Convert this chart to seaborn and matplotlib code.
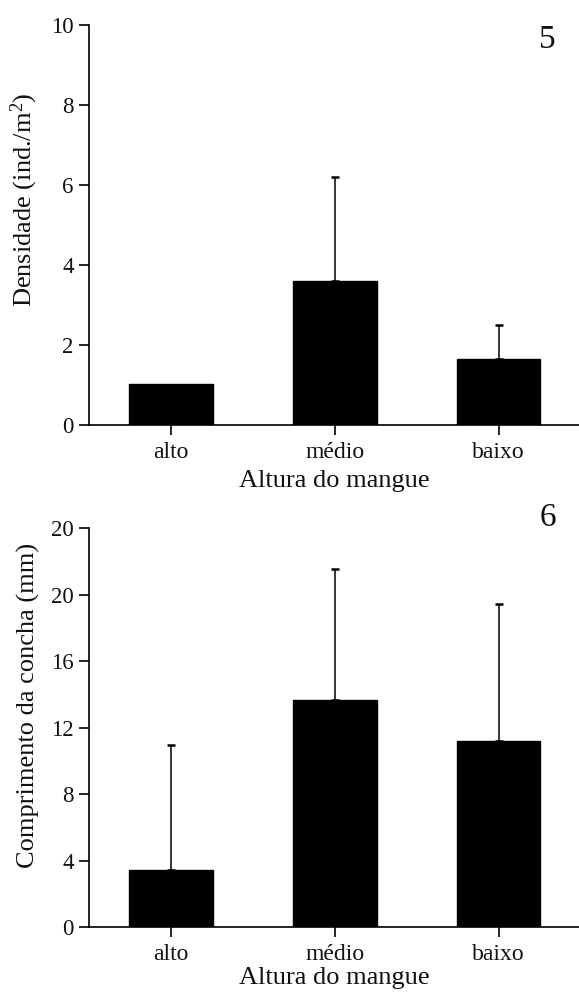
import matplotlib
matplotlib.use("Agg")
import matplotlib.pyplot as plt
import seaborn as sns
import pandas as pd
import numpy as np

# ---- data ----
categories = ["alto", "médio", "baixo"]
densidade_mean = [1.03, 3.6, 1.65]
densidade_upper = [1.03, 6.2, 2.5]      # top of error bar (none for alto)
concha_mean = [3.4, 13.66, 11.2]
concha_upper = [10.95, 21.55, 19.42]
dens_ticks = [0, 2, 4, 6, 8, 10]
dens_ticklabels = ["0", "2", "4", "6", "8", "10"]
concha_ticks = [0, 4, 8, 12, 16, 20, 24]
concha_ticklabels = ["0", "4", "8", "12", "16", "20", "20"]

sns.set_theme(style="ticks")
plt.rcParams["font.family"] = ["Liberation Serif", "DejaVu Serif"]
plt.rcParams["mathtext.fontset"] = "custom"
plt.rcParams["mathtext.rm"] = "Liberation Serif"
plt.rcParams["axes.linewidth"] = 1.2

fig = plt.figure(figsize=(5.79, 9.96), dpi=100)
W, H = 579, 996

def make_axes(top_px, bottom_px):
    left = 89 / W
    return fig.add_axes([left, 1 - bottom_px / H, 1 - left, (bottom_px - top_px) / H])

ax1 = make_axes(25, 425)
ax2 = make_axes(528, 927)

def draw(ax, means, uppers, ymax, ticks, ticklabels, ylabel, ylab_y, xlabpad, panel, panel_xy):
    df = pd.DataFrame({"cat": categories, "val": means})
    sns.barplot(data=df, x="cat", y="val", ax=ax, color="black", width=0.51,
                edgecolor="black", saturation=1, errorbar=None, zorder=2)
    x = np.arange(len(categories))
    err = np.array(uppers) - np.array(means)
    mask = err > 0.01
    ax.errorbar(x[mask], np.array(means)[mask], yerr=[np.zeros(mask.sum()), err[mask]],
                fmt="none", ecolor="black", elinewidth=1.1, capsize=3.2, capthick=1.8, zorder=1)
    ax.set_xlim(-0.5, 2.49)
    ax.set_ylim(0, ymax)
    ax.set_yticks(ticks)
    ax.set_yticklabels(ticklabels)
    ax.tick_params(axis="both", which="major", length=7, width=1.2,
                   color="black", labelcolor="#111111")
    ax.tick_params(axis="y", pad=4, labelsize=16.5)
    ax.tick_params(axis="x", pad=5, labelsize=17)
    sns.despine(ax=ax, top=True, right=True)
    ax.spines["left"].set_color("black")
    ax.spines["bottom"].set_color("black")
    ax.set_xlabel("Altura do mangue", fontsize=19, color="#111111", labelpad=xlabpad)
    ax.set_ylabel(ylabel, fontsize=19, color="#111111", labelpad=8)
    ax.yaxis.set_label_coords(-0.1, ylab_y)
    fig.text(panel_xy[0] / W, 1 - panel_xy[1] / H, panel, fontsize=24,
             ha="center", va="center", color="#111111")
    for sp in ax.spines.values():
        sp.set_clip_on(False)

draw(ax1, densidade_mean, densidade_upper, 10, dens_ticks, dens_ticklabels,
     "Densidade (ind./m$\\mathregular{^2}$)", 0.5625, 5, "5", (547, 40))
draw(ax2, concha_mean, concha_upper, 24, concha_ticks, concha_ticklabels,
     "Comprimento da concha (mm)", 0.556, 2, "6", (548, 518))

fig.savefig("out.png", dpi=100)
